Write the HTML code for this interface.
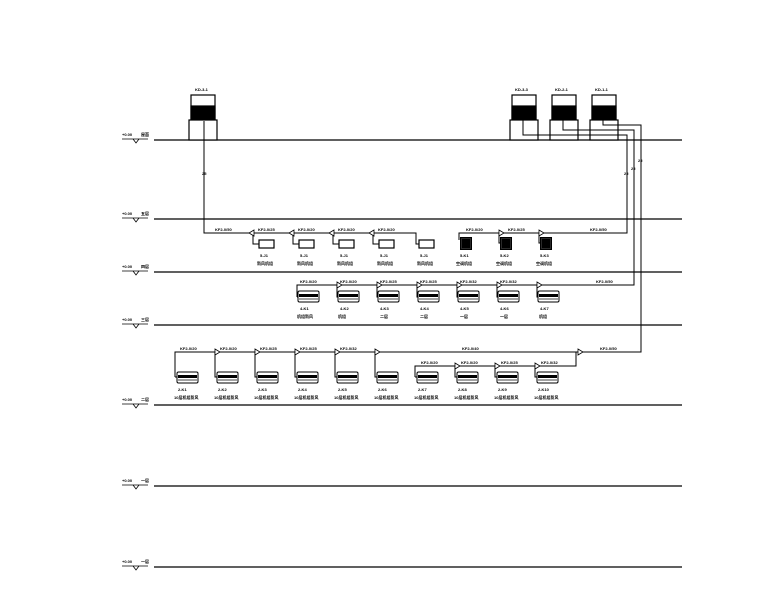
<!DOCTYPE html>
<html><head><meta charset="utf-8"><style>
html,body{margin:0;padding:0;background:#fff;}
svg{display:block}
text{font-family:"Liberation Sans","Noto Sans CJK SC",sans-serif;font-size:4px;fill:#000;font-weight:bold}
</style></head><body>
<svg width="780" height="609" viewBox="0 0 780 609" xmlns="http://www.w3.org/2000/svg">
<defs>
<g id="fan"><rect x="0" y="0" width="21" height="11" rx="1.5" fill="#fff" stroke="#000" stroke-width="1"/><rect x="1" y="3" width="19" height="3" fill="#000"/><line x1="1" y1="8" x2="20" y2="8" stroke="#000" stroke-width="0.8"/></g>
<g id="box"><rect x="0" y="0" width="15" height="8" fill="#fff" stroke="#000" stroke-width="1.2"/></g>
<g id="blk"><rect x="0" y="0" width="12" height="13" fill="#000"/><rect x="1.5" y="1.5" width="9" height="10" fill="none" stroke="#555" stroke-width="0.5"/></g>
<g id="arr"><polygon points="0,-3 5,0 0,3" fill="#fff" stroke="#000" stroke-width="0.8"/></g>
<g id="arl"><polygon points="5,-3 0,0 5,3" fill="#fff" stroke="#000" stroke-width="0.8"/></g>
</defs>
<g stroke="#000" fill="none" stroke-width="1.2">
<!-- floor lines -->
<line x1="154" y1="140" x2="682" y2="140"/>
<line x1="154" y1="219" x2="682" y2="219"/>
<line x1="154" y1="272" x2="682" y2="272"/>
<line x1="154" y1="325" x2="682" y2="325"/>
<line x1="154" y1="405" x2="682" y2="405"/>
<line x1="154" y1="486" x2="682" y2="486"/>
<line x1="154" y1="567" x2="682" y2="567"/>
</g>
<!-- level markers -->
<g stroke="#000" stroke-width="0.8" fill="none">
<line x1="122" y1="139" x2="148" y2="139"/><polyline points="133,139 136,143 139,139"/>
<line x1="122" y1="218" x2="148" y2="218"/><polyline points="133,218 136,222 139,218"/>
<line x1="122" y1="271" x2="148" y2="271"/><polyline points="133,271 136,275 139,271"/>
<line x1="122" y1="324" x2="148" y2="324"/><polyline points="133,324 136,328 139,324"/>
<line x1="122" y1="404" x2="148" y2="404"/><polyline points="133,404 136,408 139,404"/>
<line x1="122" y1="485" x2="148" y2="485"/><polyline points="133,485 136,489 139,485"/>
<line x1="122" y1="566" x2="148" y2="566"/><polyline points="133,566 136,570 139,566"/>
</g>
<text x="122" y="136">+0.00</text><text x="141" y="136">屋面</text>
<text x="122" y="215">+0.00</text><text x="141" y="215">五层</text>
<text x="122" y="268">+0.00</text><text x="141" y="268">四层</text>
<text x="122" y="321">+0.00</text><text x="141" y="321">三层</text>
<text x="122" y="401">+0.00</text><text x="141" y="401">二层</text>
<text x="122" y="482">+0.00</text><text x="141" y="482">一层</text>
<text x="122" y="563">+0.00</text><text x="141" y="563">一层</text>
<!-- tanks -->
<g stroke="#000" stroke-width="1.2">
<rect x="191" y="95" width="24" height="25" fill="#fff"/><rect x="191" y="106" width="24" height="14" fill="#000"/><rect x="189" y="120" width="28" height="20" fill="#fff"/>
<rect x="512" y="95" width="24" height="25" fill="#fff"/><rect x="512" y="106" width="24" height="14" fill="#000"/><rect x="510" y="120" width="28" height="20" fill="#fff"/>
<rect x="552" y="95" width="24" height="25" fill="#fff"/><rect x="552" y="106" width="24" height="14" fill="#000"/><rect x="550" y="120" width="28" height="20" fill="#fff"/>
<rect x="592" y="95" width="24" height="25" fill="#fff"/><rect x="592" y="106" width="24" height="14" fill="#000"/><rect x="590" y="120" width="28" height="20" fill="#fff"/>
</g>
<text x="195" y="91">KD-3-1</text><text x="515" y="91">KD-3-3</text><text x="555" y="91">KD-2-1</text><text x="595" y="91">KD-1-1</text>
<!-- main pipes -->
<g stroke="#000" fill="none" stroke-width="1">
<polyline points="204,121 204,233 416,233 416,240"/>
<polyline points="523,120 523,135 627,135 627,233 459,233 459,240"/>
<polyline points="563,120 563,130 634,130 634,285 297,285 297,297"/>
<polyline points="603,120 603,125 641,125 641,352 175,352 175,377"/>
<polyline points="576,352 576,366 415,366 415,377"/>
<!-- row1 drops -->
<polyline points="253,233 253,244 259,244"/><polyline points="293,233 293,244 299,244"/><polyline points="333,233 333,244 339,244"/><polyline points="373,233 373,244 379,244"/><polyline points="416,240 416,244 419,244"/>
<polyline points="499,233 499,243 501,243"/><polyline points="539,233 539,243 541,243"/>
<!-- row2 drops -->
<polyline points="337,285 337,297 339,297"/><polyline points="377,285 377,297 379,297"/><polyline points="417,285 417,297 419,297"/><polyline points="457,285 457,297 459,297"/><polyline points="497,285 497,297 499,297"/><polyline points="537,285 537,297 539,297"/>
<polyline points="297,297 299,297"/>
<!-- row3 drops -->
<polyline points="175,377 178,377"/><polyline points="215,352 215,377 218,377"/><polyline points="255,352 255,377 258,377"/><polyline points="295,352 295,377 298,377"/><polyline points="335,352 335,377 338,377"/><polyline points="375,352 375,377 378,377"/>
<polyline points="415,377 418,377"/><polyline points="455,366 455,377 458,377"/><polyline points="495,366 495,377 498,377"/><polyline points="535,366 535,377 538,377"/>
</g>
<text x="202" y="175">25</text><text x="624" y="175">25</text><text x="631" y="170">25</text><text x="638" y="162">25</text>
<!-- arrows -->
<use href="#arl" x="249" y="233"/><use href="#arl" x="289" y="233"/><use href="#arl" x="329" y="233"/><use href="#arl" x="369" y="233"/>
<use href="#arr" x="499" y="233"/><use href="#arr" x="539" y="233"/>
<use href="#arr" x="337" y="285"/><use href="#arr" x="377" y="285"/><use href="#arr" x="417" y="285"/><use href="#arr" x="457" y="285"/><use href="#arr" x="497" y="285"/><use href="#arr" x="537" y="285"/>
<use href="#arr" x="215" y="352"/><use href="#arr" x="255" y="352"/><use href="#arr" x="295" y="352"/><use href="#arr" x="335" y="352"/><use href="#arr" x="375" y="352"/><use href="#arr" x="578" y="352"/>
<use href="#arr" x="455" y="366"/><use href="#arr" x="495" y="366"/><use href="#arr" x="535" y="366"/>
<!-- units row1 -->
<use href="#box" x="259" y="240"/><use href="#box" x="299" y="240"/><use href="#box" x="339" y="240"/><use href="#box" x="379" y="240"/><use href="#box" x="419" y="240"/>
<use href="#blk" x="460" y="237"/><use href="#blk" x="500" y="237"/><use href="#blk" x="540" y="237"/>
<!-- units row2 -->
<use href="#fan" x="298" y="291"/><use href="#fan" x="338" y="291"/><use href="#fan" x="378" y="291"/><use href="#fan" x="418" y="291"/><use href="#fan" x="458" y="291"/><use href="#fan" x="498" y="291"/><use href="#fan" x="538" y="291"/>
<!-- units row3 -->
<use href="#fan" x="177" y="372"/><use href="#fan" x="217" y="372"/><use href="#fan" x="257" y="372"/><use href="#fan" x="297" y="372"/><use href="#fan" x="337" y="372"/><use href="#fan" x="377" y="372"/>
<use href="#fan" x="417" y="372"/><use href="#fan" x="457" y="372"/><use href="#fan" x="497" y="372"/><use href="#fan" x="537" y="372"/>
<!-- pipe labels -->
<text x="215" y="231">KF2-0/50</text><text x="258" y="231">KF2-0/25</text><text x="298" y="231">KF2-0/20</text><text x="338" y="231">KF2-0/20</text><text x="378" y="231">KF2-0/20</text>
<text x="466" y="231">KF2-0/20</text><text x="508" y="231">KF2-0/25</text><text x="590" y="231">KF2-0/50</text>
<text x="300" y="283">KF2-0/20</text><text x="340" y="283">KF2-0/20</text><text x="380" y="283">KF2-0/25</text><text x="420" y="283">KF2-0/25</text><text x="460" y="283">KF2-0/32</text><text x="500" y="283">KF2-0/32</text><text x="596" y="283">KF2-0/50</text>
<text x="180" y="350">KF2-0/20</text><text x="220" y="350">KF2-0/20</text><text x="260" y="350">KF2-0/25</text><text x="300" y="350">KF2-0/25</text><text x="340" y="350">KF2-0/32</text><text x="462" y="350">KF2-0/40</text><text x="600" y="350">KF2-0/50</text>
<text x="421" y="364">KF2-0/20</text><text x="461" y="364">KF2-0/20</text><text x="501" y="364">KF2-0/25</text><text x="541" y="364">KF2-0/32</text>
<!-- unit labels row1 -->
<g>
<text x="260" y="257">5-J1</text><text x="257" y="265">新风机组</text>
<text x="300" y="257">5-J1</text><text x="297" y="265">新风机组</text>
<text x="340" y="257">5-J1</text><text x="337" y="265">新风机组</text>
<text x="380" y="257">5-J1</text><text x="377" y="265">新风机组</text>
<text x="420" y="257">5-J1</text><text x="417" y="265">新风机组</text>
<text x="460" y="257">5-K1</text><text x="456" y="265">空调机组</text>
<text x="500" y="257">5-K2</text><text x="496" y="265">空调机组</text>
<text x="540" y="257">5-K3</text><text x="536" y="265">空调机组</text>
</g>
<g>
<text x="300" y="310">4-K1</text><text x="297" y="318">机组新风</text>
<text x="340" y="310">4-K2</text><text x="338" y="318">机组</text>
<text x="380" y="310">4-K3</text><text x="380" y="318">二层</text>
<text x="420" y="310">4-K4</text><text x="420" y="318">二层</text>
<text x="460" y="310">4-K5</text><text x="460" y="318">一层</text>
<text x="500" y="310">4-K6</text><text x="500" y="318">一层</text>
<text x="540" y="310">4-K7</text><text x="539" y="318">机组</text>
</g>
<g>
<text x="178" y="391">2-K1</text><text x="174" y="399">10层机组新风</text>
<text x="218" y="391">2-K2</text><text x="214" y="399">10层机组新风</text>
<text x="258" y="391">2-K3</text><text x="254" y="399">10层机组新风</text>
<text x="298" y="391">2-K4</text><text x="294" y="399">10层机组新风</text>
<text x="338" y="391">2-K5</text><text x="334" y="399">10层机组新风</text>
<text x="378" y="391">2-K6</text><text x="374" y="399">10层机组新风</text>
<text x="418" y="391">2-K7</text><text x="414" y="399">10层机组新风</text>
<text x="458" y="391">2-K8</text><text x="454" y="399">10层机组新风</text>
<text x="498" y="391">2-K9</text><text x="494" y="399">10层机组新风</text>
<text x="538" y="391">2-K10</text><text x="534" y="399">10层机组新风</text>
</g>
</svg>
</body></html>
